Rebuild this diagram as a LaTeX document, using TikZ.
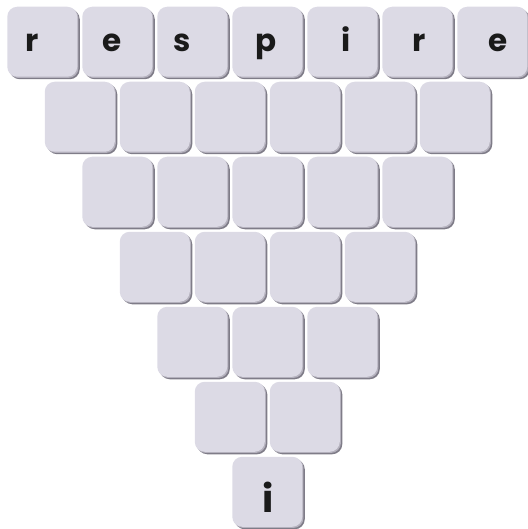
\documentclass[tikz,border=0pt]{standalone}
\usepackage{fontspec}
\setmainfont{Poppins}
\usepackage{xcolor}
\usetikzlibrary{shadows}
\definecolor{tilefill}{HTML}{DCDAE5}
\definecolor{tileedge}{HTML}{B4B1BD}
\definecolor{tiledark}{HTML}{7F7C88}
\definecolor{ink}{HTML}{1A1A1A}

\begin{document}
\begin{tikzpicture}[x=1pt,y=1pt,
   tile/.style={rectangle,rounded corners=10pt,minimum size=70pt,inner sep=0pt,fill=tilefill,
     general shadow={fill=tiledark,shadow xshift=2.5pt,shadow yshift=-2.5pt},
     general shadow={fill=tileedge,shadow xshift=1.2pt,shadow yshift=-1.2pt}},
   ltr/.style={anchor=base,inner sep=0pt,text=ink,font=\fontsize{31}{31}\selectfont\bfseries}]
  \useasboundingbox (0,0) rectangle (527,-529);
  % the triangle of tiles, 7 in the top row down to 1
  \foreach \r in {0,...,6}{
    \pgfmathtruncatemacro\last{6-\r}
    \foreach \i in {0,...,\last}
      \node[tile] (t-\r-\i) at ({42.25+37.5*\r+75*\i},{-41.75-75*\r}) {};
  }
  \node[ltr] (l1) at (32,-52) {r};
  \node[ltr] (l2) at (112.5,-52) {e};
  \node[ltr] (l3) at (182,-52) {s};
  \node[ltr] (l4) at (266.5,-52) {p};
  \node[ltr] (l5) at (346,-52) {i};
  \node[ltr] (l6) at (419,-52) {r};
  \node[ltr] (l7) at (498.5,-52) {e};
  \node[ltr,font=\fontsize{38}{38}\selectfont\bfseries] (l8) at (268,-512) {i};
\end{tikzpicture}
\end{document}
